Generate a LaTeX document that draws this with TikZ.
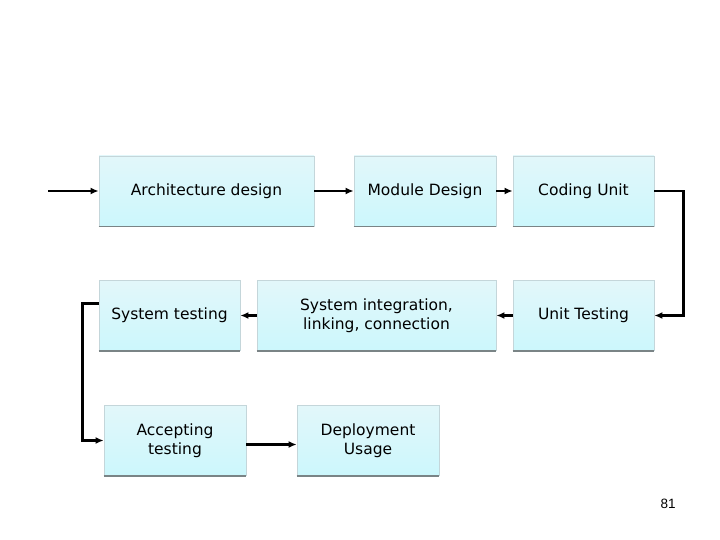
\documentclass[tikz,border=0pt]{standalone}
\usepackage{fontspec}
\setmainfont{DejaVu Sans}
\newfontfamily\numfont{Liberation Sans}
\usetikzlibrary{arrows.meta}
\definecolor{boxtop}{HTML}{E2F7FA}
\definecolor{boxbot}{HTML}{CCF7FC}
\definecolor{boxline}{HTML}{C4D6DA}
\definecolor{shadowline}{HTML}{7A8486}
\begin{document}
\begin{tikzpicture}[x=1pt,y=-1pt,
  box/.style={draw=boxline, line width=0.8pt, top color=boxtop, bottom color=boxbot,
    align=center, font=\fontsize{15.5}{19}\selectfont, inner sep=0pt, minimum height=70pt},
  conn/.style={line width=2.8pt, -{Latex[length=8pt,width=7pt]}},
]
\useasboundingbox (0,0) rectangle (720,540);
\node[box, minimum width=215pt] (arch) at (206.5,191) {Architecture design};
\node[box, minimum width=142pt] (mod) at (425,191) {Module Design};
\node[box, minimum width=141pt] (code) at (583.5,191) {Coding Unit};
\node[box, minimum width=141pt] (systest) at (169.5,315.5) {System testing};
\node[box, minimum width=239pt] (integ) at (376.5,315.5) {System integration,\\ linking, connection};
\node[box, minimum width=141pt] (unit) at (583.5,315.5) {Unit Testing};
\node[box, minimum width=142pt] (accept) at (175,440.5) {Accepting\\ testing};
\node[box, minimum width=142pt] (deploy) at (368,440.5) {Deployment\\ Usage};
\foreach \n in {arch,mod,code,systest,integ,unit,accept,deploy}
  \draw[shadowline, line width=1.6pt] (\n.south west) -- (\n.south east);
\node[font=\numfont\fontsize{13.5}{15}\selectfont] (page) at (668,504) {81};
\coordinate (start) at (48,191);
\draw[conn] (start) -- (arch.west);
\draw[conn] (arch) -- (mod);
\draw[conn] (mod) -- (code);
\draw[conn] (code.east) -- ++(29,0) |- (unit.east);
\draw[conn] (unit) -- (integ);
\draw[conn] (integ) -- (systest);
\draw[conn] ([yshift=12pt]systest.west) -- ++(-16,0) |- (accept.west);
\draw[conn] ([yshift=-4pt]accept.east) -- ([yshift=-4pt]deploy.west);
\end{tikzpicture}
\end{document}
